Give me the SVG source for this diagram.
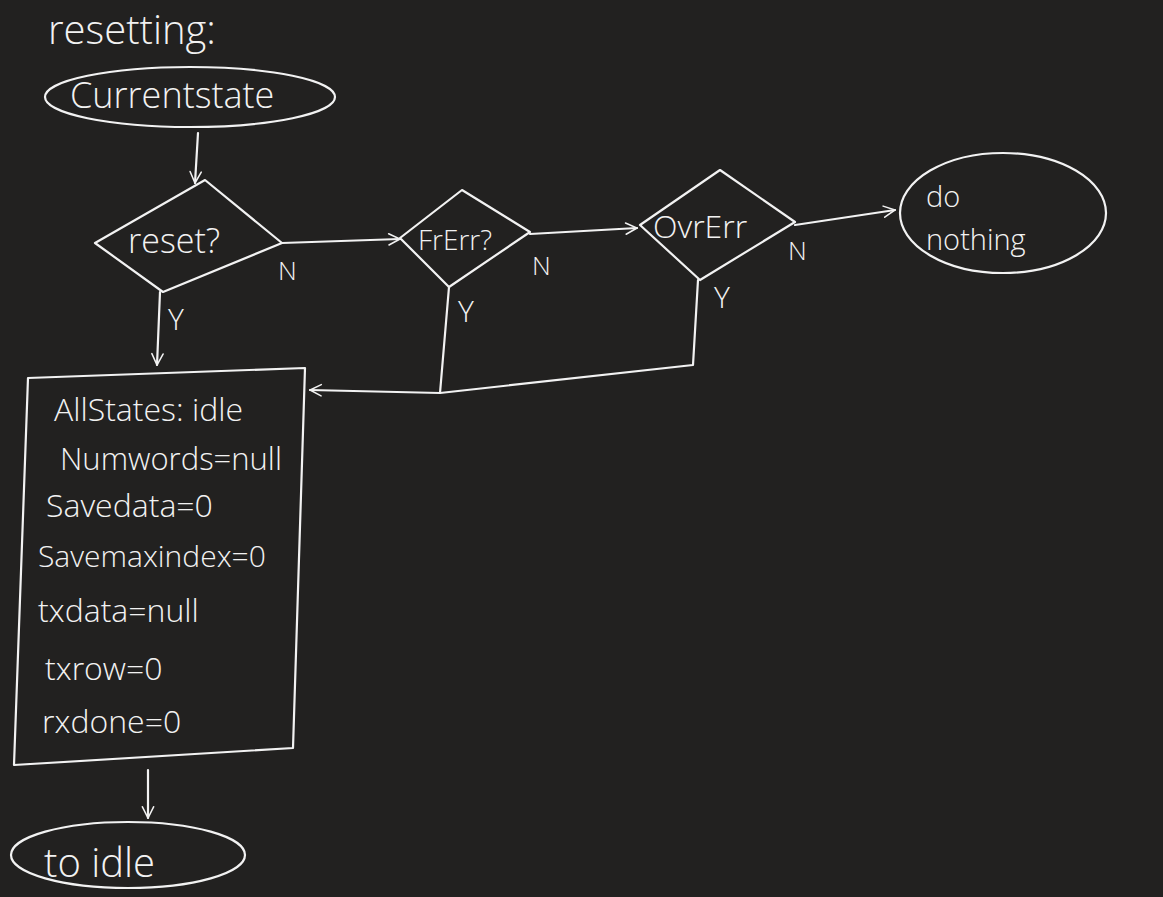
<svg xmlns="http://www.w3.org/2000/svg" width="1163" height="897" viewBox="0 0 1163 897">
<defs>
<style>
.s{fill:none;stroke:#f2f2f2;stroke-width:2.2;stroke-linecap:round;stroke-linejoin:round}
.t{fill:#f2f2f2;font-family:"Open Sans","Liberation Sans",sans-serif;font-weight:300}
</style>
<marker id="ah" viewBox="0 0 20 20" refX="18" refY="10" markerWidth="14" markerHeight="14" markerUnits="userSpaceOnUse" orient="auto">
<path d="M2,2 L18,10 L2,18" fill="none" stroke="#f2f2f2" stroke-width="2.2" stroke-linecap="round"/>
</marker>
</defs>
<rect width="1163" height="897" fill="#222120"/>
<text class="t" x="48" y="44" font-size="40">resetting:</text>
<g id="current">
<ellipse class="s" cx="190" cy="97" rx="145" ry="30"/>
<text class="t" x="70" y="108" font-size="36">Currentstate</text>
</g>
<g id="reset">
<polygon class="s" points="95,243 205,180 282,243 163,292"/>
<text class="t" x="128" y="253" font-size="34">reset?</text>
</g>
<g id="frerr">
<polygon class="s" points="400,238 462,190 530,232 449,287"/>
<text class="t" x="418" y="250" font-size="28">FrErr?</text>
</g>
<g id="ovrerr">
<polygon class="s" points="640,225 720,170 795,222 700,280"/>
<text class="t" x="653" y="238" font-size="32">OvrErr</text>
</g>
<g id="donothing">
<ellipse class="s" cx="1003" cy="213" rx="103" ry="60"/>
<text class="t" x="926" y="207" font-size="29">do</text>
<text class="t" x="926" y="250" font-size="29">nothing</text>
</g>
<g id="box">
<polygon class="s" points="28,378 305,368 293,748 14,765"/>
<text class="t" x="54" y="421" font-size="32">AllStates: idle</text>
<text class="t" x="60" y="470" font-size="31">Numwords=null</text>
<text class="t" x="46" y="517" font-size="32">Savedata=0</text>
<text class="t" x="38" y="567" font-size="30">Savemaxindex=0</text>
<text class="t" x="38" y="622" font-size="32">txdata=null</text>
<text class="t" x="45" y="680" font-size="32">txrow=0</text>
<text class="t" x="42" y="733" font-size="32">rxdone=0</text>
</g>
<g id="toidle">
<ellipse class="s" cx="128" cy="855" rx="117" ry="33"/>
<text class="t" x="44" y="877" font-size="40">to idle</text>
</g>
<g id="connectors">
<path class="s" d="M198,133 L195,183" marker-end="url(#ah)"/>
<path class="s" d="M282,243 L400,239" marker-end="url(#ah)"/>
<path class="s" d="M530,234 L637,228" marker-end="url(#ah)"/>
<path class="s" d="M795,225 L895,210" marker-end="url(#ah)"/>
<path class="s" d="M160,292 L157,365" marker-end="url(#ah)"/>
<path class="s" d="M449,287 L440,393"/>
<path class="s" d="M698,280 L693,365 L440,393 L310,390" marker-end="url(#ah)"/>
<path class="s" d="M148,770 L148,818" marker-end="url(#ah)"/>
<text class="t" x="278" y="280" font-size="26">N</text>
<text class="t" x="532" y="275" font-size="26">N</text>
<text class="t" x="788" y="260" font-size="26">N</text>
<text class="t" x="168" y="330" font-size="30">Y</text>
<text class="t" x="458" y="322" font-size="30">Y</text>
<text class="t" x="714" y="308" font-size="30">Y</text>
</g>
</svg>
